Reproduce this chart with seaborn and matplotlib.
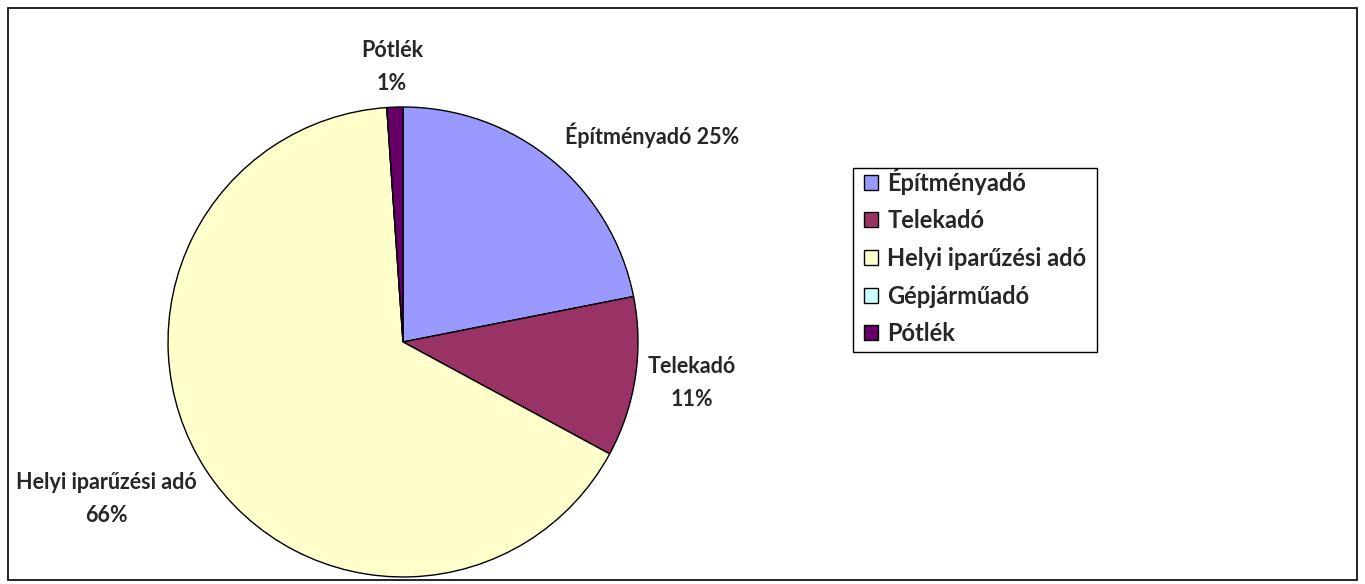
import matplotlib
matplotlib.use("Agg")
import matplotlib.pyplot as plt
import seaborn as sns
from matplotlib.patches import Rectangle

# data
categories = ["Építményadó", "Telekadó", "Helyi iparűzési adó", "Gépjárműadó", "Pótlék"]
values = [21.9, 11.0, 66.0, 0.0, 1.1]
slice_labels = ["Építményadó 25%", "Telekadó\n11%", "Helyi iparűzési adó\n66%", "", "Pótlék\n1%"]
colors = ["#9999FF", "#993366", "#FFFFCC", "#CCFFFF", "#660066"]

sns.set_style("white")
plt.rcParams['font.family'] = ['Lato', 'DejaVu Sans']

W, H = 1365, 584
fig = plt.figure(figsize=(W / 100, H / 100), dpi=100)
ax = fig.add_axes([0.1231, 0.012, 0.3443, 0.8048])

wedges, texts = ax.pie(values, colors=colors, startangle=90, counterclock=False,
                       labels=slice_labels, labeldistance=1.15,
                       wedgeprops=dict(edgecolor="black", linewidth=1.0),
                       textprops=dict(fontsize=15.5, fontweight="bold", ha="center", va="center"))
ax.set_aspect("equal")
ax.set_xlim(-1, 1)
ax.set_ylim(-1, 1)

# label positions (data units, radius = 1)
label_pos = [(1.06, 0.88), (1.23, -0.175), (-1.264, -0.67), (0, 0), (-0.047, 1.172)]
for t, (x, y) in zip(texts, label_pos):
    t.set_position((x, y))
    t.set_ha("center")
    t.set_linespacing(1.7)

leg = ax.legend(wedges, categories, loc="upper left", bbox_to_anchor=(853 / W, 1 - 157 / H),
                bbox_transform=fig.transFigure, frameon=False,
                borderpad=0.45, labelspacing=0.62,
                handlelength=0.6, handleheight=0.6, handletextpad=0.4,
                borderaxespad=0, prop=dict(size=17, weight="bold"))
for h in leg.legend_handles:
    h.set_edgecolor("black")
    h.set_linewidth(1.0)

# legend frame (Excel style, tight around the entries)
fig.patches.append(Rectangle((853 / W, 1 - 352 / H), 244 / W, 184 / H, transform=fig.transFigure,
                             fill=False, edgecolor="black", linewidth=1.0))

# outer chart border
fig.patches.append(Rectangle((8 / W, 4 / H), 1349 / W, 572 / H, transform=fig.transFigure,
                             fill=False, edgecolor="black", linewidth=1.2))

fig.savefig("out.png", dpi=100)
